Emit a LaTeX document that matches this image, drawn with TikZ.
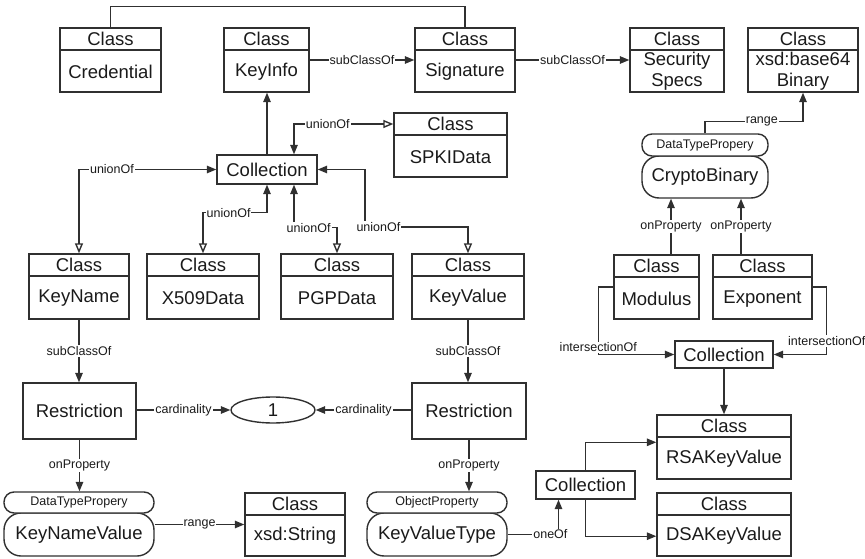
\documentclass[tikz,border=0pt]{standalone}
\usepackage{fontspec}
\setmainfont{Liberation Sans}
\usetikzlibrary{arrows.meta,fit,calc,shapes.geometric}
\definecolor{lc}{HTML}{303030}
\definecolor{tc}{HTML}{1A1A1A}
\newcommand\mkclass[6]{%
  \node[boxshape, fit={(#2,#3) (#4,#5)}] (#1) {};
  \pgfmathsetmacro\mkdiv{#3+22}%
  \node[boxshape, fit={(#2,#3) (#4,\mkdiv)}] (#1-t) {};
  \node[bigtxt] (#1-tt) at (#1-t.center) {Class};
  \node[bigtxt] (#1-b) at ($(#1-t.south)!0.5!(#1.south)$) {#6};
}
\newcommand\mkprop[8]{%
  \node[boxshape, rounded corners=17pt, fit={(#2,#5) (#4,#6)}] (#1) {};
  \node[boxshape, rounded corners=10pt, fill=white, fit={(#2,#3) (#4,#5)}] (#1T) {};
  \node[smalltxt] (#1Tt) at (#1T.center) {#7};
  \node[bigtxt] (#1t) at (#1.center) {#8};
}
\newcommand\mkplain[6]{%
  \node[boxshape, fit={(#2,#3) (#4,#5)}] (#1) {};
  \node[bigtxt] (#1-x) at (#1.center) {#6};
}
\begin{document}
\begin{tikzpicture}[x=1pt,y=-1pt,
  boxshape/.style={draw=lc, line width=1.4pt, inner sep=0pt},
  bigtxt/.style={font=\fontsize{18.5}{21}\selectfont, text=tc, inner sep=0pt, align=center},
  smalltxt/.style={font=\fontsize{12.5}{14}\selectfont, text=tc, inner sep=0pt},
  lab/.style={font=\fontsize{12.5}{14}\selectfont, text=tc, fill=white, inner sep=1pt},
  conn/.style={draw=lc, line width=1.4pt},
  arr/.style={conn, -{Triangle[length=9.5pt,width=7.5pt]}},
  uni/.style={conn, {Triangle[length=9.5pt,width=7.5pt]}-{Triangle[open,length=10pt,width=8pt,fill=white]}}
]
\useasboundingbox (0,0) rectangle (865,559);

% top row
\mkclass{cred}{60}{28}{161}{92}{Credential}
\mkclass{keyinfo}{224}{28}{309}{92}{KeyInfo}
\mkclass{sig}{415}{28}{515}{92}{Signature}
\mkclass{sec}{630}{28}{724}{92}{Security\\Specs}
\mkclass{b64}{748}{28}{858}{92}{xsd:base64\\Binary}
\mkclass{spki}{394}{113}{507}{177}{SPKIData}
\mkprop{cb}{642}{134}{768}{156}{198}{DataTypePropery}{CryptoBinary}
\mkplain{coll1}{217}{155}{317}{184}{Collection}

% second row
\mkclass{keyname}{29}{254}{129}{319}{KeyName}
\mkclass{x509}{147}{254}{259}{319}{X509Data}
\mkclass{pgp}{281}{254}{393}{319}{PGPData}
\mkclass{keyvalue}{412}{254}{524}{319}{KeyValue}
\mkclass{modulus}{614}{255}{699}{319}{Modulus}
\mkclass{exponent}{713}{255}{812}{319}{Exponent}
\mkplain{coll2}{675}{341}{773}{368}{Collection}

% third row
\mkplain{restrL}{23}{383}{136}{439}{Restriction}
\mkplain{restrR}{412}{383}{526}{439}{Restriction}
\node[ellipse, draw=lc, line width=1.4pt, minimum width=84pt, minimum height=26pt, inner sep=0pt,
      font=\fontsize{18.5}{21}\selectfont, text=tc] (one) at (273,410) {1};
\mkclass{rsa}{657}{415}{791}{479}{RSAKeyValue}
\mkclass{dsa}{657}{493}{791}{556}{DSAKeyValue}
\mkplain{coll3}{536}{471}{635}{499}{Collection}

% bottom row
\mkprop{knv}{4}{492}{154}{513}{556}{DataTypePropery}{KeyNameValue}
\mkclass{str}{245}{493}{345}{556}{xsd:String}
\mkprop{kvt}{367}{492}{507}{513}{556}{ObjectProperty}{KeyValueType}

% connectors
\draw[conn] (cred.north) -- ++(0,-21) -| (sig.north);
\draw[arr] (keyinfo.east) -- node[lab]{subClassOf} (sig.west);
\draw[arr] (sig.east) -- node[lab]{subClassOf} (sec.west);
\draw[arr] (cbT.north) -- ++(0,-12) -| node[lab,pos=0.29]{range} (b64.south);
\draw[arr] (coll1.north) -- (coll1.north |- keyinfo.south);
\draw[uni] ([xshift=27pt]coll1.north) |- node[lab,pos=0.67]{unionOf} (spki-t.west);
\draw[uni] (coll1.west) -| node[lab,pos=0.38]{unionOf} (keyname.north);
\draw[uni] (coll1.south) -- ++(0,28) -| node[lab,pos=0.30]{unionOf} (x509.north);
\draw[uni] ([xshift=27pt]coll1.south) -- ++(0,43) -| node[lab,pos=0.17]{unionOf} (pgp.north);
\coordinate (kvbend) at (365,227);
\draw[uni] (coll1.east) -| (kvbend) -| node[lab,pos=0.065]{unionOf} (keyvalue.north);

\draw[arr] ([xshift=-34pt]cb.south |- modulus.north) -- node[lab]{onProperty} ([xshift=-34pt]cb.south);
\draw[arr] ([xshift=36pt]cb.south |- exponent.north) -- node[lab]{onProperty} ([xshift=36pt]cb.south);
\draw[arr] (modulus.west) -- ++(-15,0) |- node[lab,pos=0.5,yshift=7pt]{intersectionOf} (coll2.west);
\draw[arr] (exponent.east) -- ++(14,0) |- node[lab,pos=0.4]{intersectionOf} (coll2.east);
\draw[arr] (coll2.south) -- (coll2.south |- rsa.north);

\draw[arr] (keyname.south) -- node[lab]{subClassOf} (keyname.south |- restrL.north);
\draw[arr] (keyvalue.south) -- node[lab]{subClassOf} (keyvalue.south |- restrR.north);
\draw[arr] (one.west -| restrL.east) -- node[lab]{cardinality} (one.west);
\draw[arr] (one.east -| restrR.west) -- node[lab]{cardinality} (one.east);
\draw[arr] (restrL.south) -- node[lab]{onProperty} (restrL.south |- knvT.north);
\draw[arr] (restrR.south) -- node[lab]{onProperty} (restrR.south |- kvtT.north);
\draw[arr] (str.west -| knv.east) -- node[lab]{range} (str.west);
\draw[arr] (kvt.east) -| node[lab,pos=0.42]{oneOf} ([xshift=-27pt]coll3.south);
\draw[arr] (coll3.north) |- ($(rsa.north west)+(0,28)$);
\draw[arr] (coll3.south) |- (dsa-b -| dsa.west);
\end{tikzpicture}
\end{document}
